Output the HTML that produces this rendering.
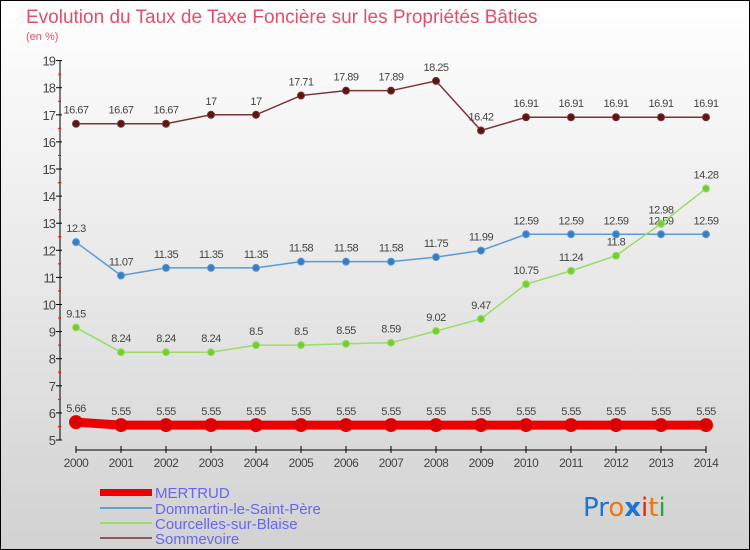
<!DOCTYPE html>
<html><head><meta charset="utf-8"><style>
body{margin:0}
#c{width:750px;height:550px;position:relative;background:linear-gradient(#ffffff,#d2d2d2);font-family:"Liberation Sans",sans-serif;overflow:hidden}
</style></head><body>
<div id="c">
<svg id="s" width="750" height="550" style="position:absolute;left:0;top:0">
<rect x="0.5" y="0.5" width="749" height="549" fill="none" stroke="#000"/>
<text x="26" y="23" font-size="19" fill="#e0506a">Evolution du Taux de Taxe Foncière sur les Propriétés Bâties</text>
<text x="26" y="40" font-size="11" fill="#e0506a">(en %)</text>
<g id="axes"></g><g id="series"></g>
<g>
<rect x="100" y="489" width="52" height="7" fill="#ee0000"/>
<text x="155" y="498" font-size="15" fill="#6666ee">MERTRUD</text>
<line x1="100" y1="508" x2="152" y2="508" stroke="#6a9fc8" stroke-width="2"/>
<text x="155" y="514" font-size="15" fill="#6666ee">Dommartin-le-Saint-Père</text>
<line x1="100" y1="523" x2="152" y2="523" stroke="#99dd66" stroke-width="2"/>
<text x="155" y="529" font-size="15" fill="#6666ee">Courcelles-sur-Blaise</text>
<line x1="100" y1="538" x2="152" y2="538" stroke="#8a5a5a" stroke-width="2"/>
<text x="155" y="544" font-size="15" fill="#6666ee">Sommevoire</text>
</g>
<g font-size="26" font-family="'DejaVu Sans',sans-serif">
<text x="583" y="516"><tspan fill="#1a74d0">Pr</tspan><tspan fill="#ee7711">o</tspan><tspan fill="#1a74d0" font-weight="bold">x</tspan><tspan fill="#ee2200">i</tspan><tspan fill="#ee7711">t</tspan><tspan fill="#22aa33">i</tspan></text>
</g>
</svg>
</div>
<script>
const years=[2000,2001,2002,2003,2004,2005,2006,2007,2008,2009,2010,2011,2012,2013,2014];
const mertrud=[5.66,5.55,5.55,5.55,5.55,5.55,5.55,5.55,5.55,5.55,5.55,5.55,5.55,5.55,5.55];
const dommartin=[12.3,11.07,11.35,11.35,11.35,11.58,11.58,11.58,11.75,11.99,12.59,12.59,12.59,12.59,12.59];
const courcelles=[9.15,8.24,8.24,8.24,8.5,8.5,8.55,8.59,9.02,9.47,10.75,11.24,11.8,12.98,14.28];
const sommevoire=[16.67,16.67,16.67,17,17,17.71,17.89,17.89,18.25,16.42,16.91,16.91,16.91,16.91,16.91];
const yTicks=[5,6,7,8,9,10,11,12,13,14,15,16,17,18,19];
const NS="http://www.w3.org/2000/svg";
const X=i=>76+i*45;
const Y=v=>440-(v-5)*27.1;
function mk(t,a,p){const e=document.createElementNS(NS,t);for(const k in a)e.setAttribute(k,a[k]);p.appendChild(e);return e;}
const ax=document.getElementById('axes');
let yl=mk('line',{x1:60,y1:Y(19),x2:60,y2:Y(5),stroke:'#000'},ax);


yTicks.forEach(v=>{
 mk('line',{x1:56,y1:Y(v),x2:62,y2:Y(v),stroke:'#000'},ax);
 if(v<19)mk('line',{x1:58,y1:Y(v+0.5),x2:61,y2:Y(v+0.5),stroke:'#f00'},ax);
 const t=mk('text',{x:55,y:Y(v)+5,'font-size':13,fill:'#444','text-anchor':'end','letter-spacing':'-1'},ax);t.textContent=v;
 
 
});
let xl=mk('line',{x1:X(0),y1:450,x2:X(14),y2:450,stroke:'#000'},ax);


years.forEach((y,i)=>{
 mk('line',{x1:X(i),y1:446,x2:X(i),y2:453,stroke:'#000'},ax);
 const t=mk('text',{x:X(i),y:467,'font-size':12,fill:'#444','text-anchor':'middle','letter-spacing':'-0.5'},ax);t.textContent=y;
 
 
});
const sg=document.getElementById('series');
function draw(name,data,color,dot,lw,r){
 const g=mk('g',{},sg);
 
 
 mk('polyline',{points:data.map((v,i)=>X(i)+','+Y(v)).join(' '),fill:'none',stroke:color,'stroke-width':lw},g);
 data.forEach((v,i)=>{
  const c=mk('circle',{cx:X(i),cy:Y(v),r:r,fill:dot,stroke:color,'stroke-width':1},g);
  
  
  const t=mk('text',{x:X(i),y:Y(v)-10,'font-size':11,fill:'#444','text-anchor':'middle','letter-spacing':'-0.5'},g);
  t.textContent=v;
  
  
 });
}
draw('sommevoire',sommevoire,'#7a3333','#5a1515',1.5,3.5);
draw('dommartin',dommartin,'#5b9bd5','#3a7cc0',1.5,3.5);
draw('courcelles',courcelles,'#99dd66','#77cc33',1.5,3.5);
draw('mertrud',mertrud,'#ee0000','#dd0000',9,6.5);
</script>
</body></html>
